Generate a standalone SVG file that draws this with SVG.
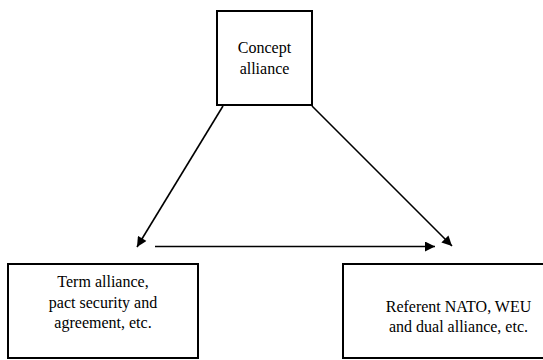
<svg xmlns="http://www.w3.org/2000/svg" width="543" height="360" viewBox="0 0 543 360">
<defs>
<style>
.box{fill:#fff;stroke:#000;stroke-width:2}
.lbl{font-size:16px;fill:#000;text-anchor:middle}
.con{stroke:#000;stroke-width:1.6;fill:none;marker-end:url(#ah)}
</style>
<marker id="ah" viewBox="0 0 10 10" refX="10" refY="5" markerWidth="11" markerHeight="10" markerUnits="userSpaceOnUse" orient="auto"><path d="M0,0 L10,5 L0,10 z" fill="#000"/></marker>
</defs>
<rect width="543" height="360" fill="#fff"/>
<g id="connectors">
<line class="con" x1="223" y1="106" x2="137" y2="247"/>
<line class="con" x1="155" y1="246.5" x2="435" y2="246.5"/>
<line class="con" x1="312" y1="106" x2="452" y2="246"/>
</g>
<g font-family="'Liberation Serif', 'Times New Roman', serif">
<g id="concept">
<rect class="box" x="217" y="11" width="95" height="94"/>
<text class="lbl" x="264.5" y="53">Concept</text>
<text class="lbl" x="264.5" y="74">alliance</text>
</g>
<g id="term">
<rect class="box" x="8" y="264" width="190" height="94"/>
<text class="lbl" x="103" y="287">Term alliance,</text>
<text class="lbl" x="103" y="307.5">pact security and</text>
<text class="lbl" x="103" y="328">agreement, etc.</text>
</g>
<g id="referent">
<rect class="box" x="343" y="264" width="210" height="94"/>
<text class="lbl" x="458.5" y="311.5">Referent NATO, WEU</text>
<text class="lbl" x="458.5" y="332">and dual alliance, etc.</text>
</g>
</g>
</svg>
